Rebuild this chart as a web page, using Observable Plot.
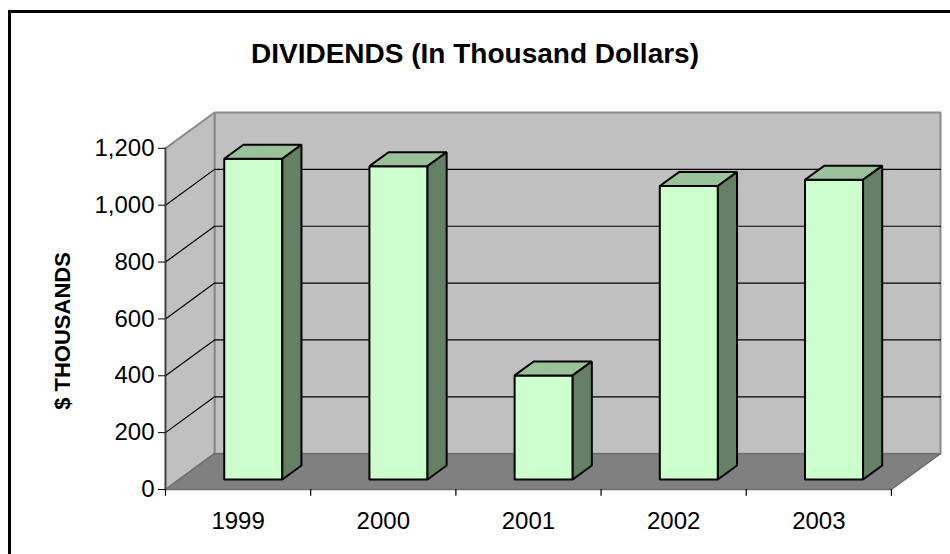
<!DOCTYPE html>
<html>
<head>
<meta charset="utf-8">
<script src="https://cdn.jsdelivr.net/npm/d3@7"></script>
<script src="https://cdn.jsdelivr.net/npm/@observablehq/plot@0.6"></script>
<style>
  html, body { margin: 0; padding: 0; background: #fff; overflow: hidden; }
  #wrap { position: relative; width: 950px; height: 554px; overflow: hidden; }
  #frame { position: absolute; left: 8px; top: 10px; width: 1000px; height: 600px; border: 3px solid #000; box-sizing: border-box; }
  #chart { position: absolute; left: 0; top: 0; }
</style>
</head>
<body>
<div id="wrap"><div id="frame"></div><div id="chart"></div></div>
<script>
// ---- data ----
const years = ["1999", "2000", "2001", "2002", "2003"];
const dividends = [1128, 1102, 366, 1032, 1054];
const yTicks = [0, 200, 400, 600, 800, 1000, 1200];
const title = "DIVIDENDS (In Thousand Dollars)";
const yLabel = "$ THOUSANDS";

// ---- 3D oblique geometry (in scale units) ----
const N = years.length;
const yMax = 1200;
const DX = 0.338;   // depth offset along x (category units)
const DY = 126;     // depth offset along y (value units)
const bFront = 0.28, bBack = 0.67;   // bar depth span (fraction of full depth)
const bLeft = 0.31, bRight = 0.71;   // bar width span within a band

const walls = [
  {id: "back", pts: [[DX, DY], [N + DX, DY], [N + DX, yMax + DY], [DX, yMax + DY]]},
  {id: "left", pts: [[0, 0], [DX, DY], [DX, yMax + DY], [0, yMax]]}
].flatMap(w => w.pts.map(([x, y]) => ({id: w.id, x, y})));
const floor = [[0, 0], [N, 0], [N + DX, DY], [DX, DY]].map(([x, y]) => ({id: "floor", x, y}));

const grid = yTicks.filter(v => v > 0 && v < yMax).flatMap(v => [
  {id: v, x: 0, y: v}, {id: v, x: DX, y: v + DY}, {id: v, x: N + DX, y: v + DY}
]);

const fronts = [], tops = [], sides = [];
years.forEach((yr, i) => {
  const v = dividends[i];
  const fx = DX * bFront, fy = DY * bFront;
  const bx = DX * bBack, by = DY * bBack;
  const x0 = i + bLeft + fx, x1 = i + bRight + fx;
  const y0 = fy, y1 = v + fy;
  const ddx = bx - fx, ddy = by - fy;
  [[x0, y0], [x1, y0], [x1, y1], [x0, y1]].forEach(([x, y]) => fronts.push({id: yr, x, y}));
  [[x0, y1], [x1, y1], [x1 + ddx, y1 + ddy], [x0 + ddx, y1 + ddy]].forEach(([x, y]) => tops.push({id: yr, x, y}));
  [[x1, y0], [x1 + ddx, y0 + ddy], [x1 + ddx, y1 + ddy], [x1, y1]].forEach(([x, y]) => sides.push({id: yr, x, y}));
});

const poly = (data, fill, stroke, sw) => Plot.line(data, {
  x: "x", y: "y", z: "id", fill, stroke, strokeWidth: sw, curve: "linear-closed", strokeLinejoin: "miter"
});

const chart = Plot.plot({
  width: 950,
  height: 554,
  marginLeft: 165,
  marginRight: 10,
  marginTop: 112,
  marginBottom: 65,
  style: {fontFamily: "'Liberation Sans', Arial, sans-serif", fontSize: "24px", background: "transparent", color: "#000", overflow: "visible"},
  x: {type: "linear", domain: [0, N + DX], axis: null},
  y: {type: "linear", domain: [0, yMax + DY], axis: null},
  marks: [
    poly(walls, "#c0c0c0", "#8a8a8a", 2),
    poly(floor, "#808080", "#6e6e6e", 1.5),
    Plot.line(grid, {x: "x", y: "y", z: "id", stroke: "#000", strokeWidth: 1.2}),
    Plot.ruleX([0], {y1: 0, y2: yMax, stroke: "#3a3a3a", strokeWidth: 1.5}),
    Plot.axisY({ticks: yTicks, tickFormat: d3.format(","), tickSize: 7, tickPadding: 4, fontSize: 24, label: null, anchor: "left"}),
    Plot.ruleX(d3.range(N + 1), {x: d => d, y1: 0, y2: -24, stroke: "#000", strokeWidth: 1.2}),
    Plot.text(years, {x: (d, i) => i + 0.5, y: 0, dy: 32, text: d => d, fontSize: 24, fill: "#000"}),
    poly(fronts, "#ccffcc", "#000", 2),
    poly(tops, "#9ac29a", "#000", 2),
    poly(sides, "#668066", "#000", 2),
    Plot.text([title], {frameAnchor: "top", dx: -78, dy: -69, text: d => d, fontSize: 28, fontWeight: "bold", fill: "#000"}),
    Plot.text([yLabel], {frameAnchor: "left", textAnchor: "middle", lineAnchor: "middle", dx: -103, dy: 30, rotate: -90, text: d => d, fontSize: 22, fontWeight: "bold", fill: "#000"})
  ]
});
document.getElementById("chart").appendChild(chart);
</script>
</body>
</html>
